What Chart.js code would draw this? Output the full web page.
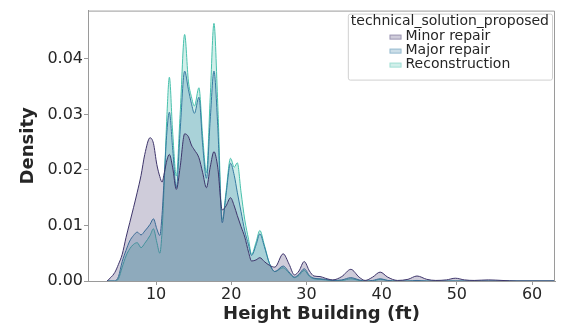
<!DOCTYPE html>
<html>
<head>
<meta charset="utf-8">
<script src="https://cdn.jsdelivr.net/npm/chart.js@4"></script>
<style>
  html, body { margin: 0; padding: 0; background: #fff; }
</style>
</head>
<body>
<canvas id="kdeChart" width="561" height="327"></canvas>
<script>
const heightFt = [3.5, 4.5, 5.0, 5.5, 6.0, 6.5, 7.0, 7.5, 8.0, 8.5, 9.2, 9.65, 10.1, 10.5, 10.8, 11.1, 11.45, 11.77, 12.2, 12.7,
  13.2, 13.8, 14.3, 14.7, 15.1, 15.7, 16.2, 16.7, 17.2, 17.7, 18.2, 18.8, 19.3, 19.9, 20.4, 20.8, 21.3, 21.8, 22.3, 22.7,
  23.3, 23.8, 24.4, 25.1, 25.8, 26.9, 27.7, 28.4, 29.0, 29.7, 30.4, 31.0, 31.8, 32.5, 33.5, 34.7, 35.9, 37.0, 37.8, 38.8,
  39.8, 40.8, 42.1, 43.5, 44.7, 46.0, 47.2, 48.6, 49.8, 51.0, 52.3, 54.2, 56.0, 58.0, 60.0, 63.0];

const minorRepair = [0, 0.0015, 0.003, 0.0048, 0.0078, 0.0105, 0.0132, 0.016, 0.019, 0.0228, 0.0258, 0.0248, 0.021, 0.0188, 0.0178, 0.0195, 0.0218, 0.0228, 0.0205, 0.0165,
  0.0205, 0.0265, 0.026, 0.0245, 0.0236, 0.0222, 0.0195, 0.0168, 0.0205, 0.0233, 0.0205, 0.0128, 0.0135, 0.015, 0.0135, 0.0118, 0.0098, 0.0079, 0.0052, 0.0036,
  0.0038, 0.0042, 0.0035, 0.0028, 0.0025, 0.0049, 0.003, 0.0011, 0.0018, 0.0035, 0.0018, 0.0009, 0.0008, 0.0005, 0.0002, 0.0008, 0.0021, 0.0007, 0.0001, 0.0007,
  0.0016, 0.0007, 0.0001, 0.0003, 0.0009, 0.0003, 0.0001, 0.0002, 0.0005, 0.0002, 0.0001, 0.0002, 0.0001, 0, 0, 0];

const majorRepair = [0, 0, 0.0008, 0.0035, 0.0055, 0.0072, 0.0082, 0.0088, 0.0083, 0.009, 0.0102, 0.0112, 0.0094, 0.0082, 0.012, 0.019, 0.027, 0.0304, 0.024, 0.0168,
  0.027, 0.0378, 0.0345, 0.032, 0.0302, 0.0331, 0.0245, 0.0185, 0.029, 0.0378, 0.028, 0.0105, 0.0155, 0.0212, 0.019, 0.016, 0.0125, 0.009, 0.0065, 0.0046,
  0.0065, 0.0085, 0.0062, 0.0031, 0.0017, 0.0027, 0.0016, 0.0007, 0.0012, 0.0022, 0.001, 0.0005, 0.0004, 0.0003, 0.0001, 0.0002, 0.0006, 0.0002, 0, 0.0001,
  0.0004, 0.0001, 0, 0, 0.0001, 0, 0, 0, 0, 0, 0, 0, 0, 0, 0, 0];

const reconstruction = [0, 0, 0.0004, 0.0025, 0.0045, 0.0058, 0.0066, 0.0069, 0.006, 0.0068, 0.0082, 0.0094, 0.007, 0.005, 0.009, 0.018, 0.03, 0.0367, 0.027, 0.0189,
  0.03, 0.0444, 0.036, 0.0332, 0.0315, 0.0348, 0.026, 0.0195, 0.033, 0.0464, 0.032, 0.011, 0.016, 0.0221, 0.0205, 0.0213, 0.016, 0.011, 0.0075, 0.0048,
  0.007, 0.0091, 0.0065, 0.0031, 0.0017, 0.0024, 0.0014, 0.0006, 0.001, 0.0019, 0.0008, 0.0004, 0.0003, 0.0002, 0.0001, 0.0001, 0.0004, 0.0001, 0, 0,
  0.0003, 0.0001, 0, 0, 0, 0, 0, 0, 0, 0, 0, 0, 0, 0, 0, 0];

const seriesNames = ["Minor repair", "Major repair", "Reconstruction"];
const xTicks = [10, 20, 30, 40, 50, 60];
const yTicks = [0, 0.01, 0.02, 0.03, 0.04];

const lineColors = ["#3e356b", "#357ba2", "#49c1ad"];
const fillColors = ["rgba(62,53,107,0.25)", "rgba(53,123,162,0.25)", "rgba(73,193,173,0.25)"];

const FONT = "'DejaVu Sans', sans-serif";
const TEXT = "#262626";
const SPINE = "#9a9a9a";

const toPoints = (ys) => heightFt.map((x, i) => ({ x: x, y: ys[i] }));

// top and right spines
const frame = {
  id: "frame",
  afterDatasetsDraw(chart) {
    const { ctx, chartArea: a } = chart;
    ctx.save();
    ctx.strokeStyle = SPINE;
    ctx.lineWidth = 1;
    ctx.beginPath();
    ctx.moveTo(a.left, a.top + 0.5);
    ctx.lineTo(a.right - 0.5, a.top + 0.5);
    ctx.lineTo(a.right - 0.5, a.bottom);
    ctx.stroke();
    ctx.restore();
  },
};

// seaborn-style legend box with a title, top right inside the axes
const legendBox = {
  id: "legendBox",
  afterDraw(chart) {
    const { ctx, chartArea } = chart;
    const sets = chart.data.datasets;
    const title = "technical_solution_proposed";
    ctx.save();
    ctx.font = "14px " + FONT;
    const titleW = ctx.measureText(title).width;
    const labelW = Math.max(...sets.map((d) => ctx.measureText(d.label).width));
    const itemW = 12 + 4 + labelW;
    const boxW = Math.max(titleW, itemW) + 6;
    const right = chartArea.right - 3;
    const left = right - boxW;
    const top = chartArea.top + 3;
    const boxH = 66;

    ctx.fillStyle = "rgba(255,255,255,0.8)";
    ctx.strokeStyle = "#d0d0d0";
    ctx.lineWidth = 1;
    ctx.beginPath();
    ctx.roundRect(left + 0.5, top + 0.5, boxW, boxH, 2);
    ctx.fill();
    ctx.stroke();

    const cx = left + boxW / 2;
    ctx.fillStyle = TEXT;
    ctx.textBaseline = "middle";
    ctx.textAlign = "center";
    ctx.fillText(title, cx, top + 8);

    const x0 = cx - itemW / 2;
    ctx.textAlign = "left";
    sets.forEach((d, i) => {
      const y = top + 23 + i * 14;
      ctx.fillStyle = d.backgroundColor;
      ctx.fillRect(x0, y - 2, 12, 5);
      ctx.globalAlpha = 0.35;
      ctx.strokeStyle = d.borderColor;
      ctx.strokeRect(x0 + 0.5, y - 1.5, 11, 4);
      ctx.globalAlpha = 1;
      ctx.fillStyle = TEXT;
      ctx.fillText(d.label, x0 + 16, y);
    });
    ctx.restore();
  },
};

const datasets = [minorRepair, majorRepair, reconstruction].map((ys, i) => ({
  label: seriesNames[i],
  data: toPoints(ys),
  borderColor: lineColors[i],
  backgroundColor: fillColors[i],
  borderWidth: 1,
  pointRadius: 0,
  fill: "origin",
  cubicInterpolationMode: "monotone",
}));

new Chart(document.getElementById("kdeChart"), {
  type: "line",
  data: { datasets: datasets },
  options: {
    responsive: false,
    animation: false,
    devicePixelRatio: 1,
    layout: { padding: { left: 0, right: 6, top: 7, bottom: 0 } },
    plugins: {
      legend: { display: false },
      tooltip: { enabled: false },
    },
    scales: {
      x: {
        type: "linear",
        min: 0.95,
        max: 63.05,
        afterBuildTicks: (scale) => { scale.ticks = xTicks.map((v) => ({ value: v })); },
        afterFit: (scale) => { scale.height = 46; },
        ticks: {
          color: TEXT,
          font: { family: FONT, size: 16 },
          padding: 0,
          maxRotation: 0,
          callback: (v) => String(v),
        },
        grid: { drawOnChartArea: false, tickLength: 4, tickColor: SPINE },
        border: { color: SPINE, width: 1 },
        title: {
          display: true,
          text: "Height Building (ft)",
          color: TEXT,
          font: { family: FONT, size: 18, weight: "bold" },
          padding: { top: 0, bottom: 2 },
        },
      },
      y: {
        min: 0,
        max: 0.0487,
        afterBuildTicks: (scale) => { scale.ticks = yTicks.map((v) => ({ value: v })); },
        afterFit: (scale) => { scale.width = 88; },
        ticks: {
          color: TEXT,
          font: { family: FONT, size: 16 },
          padding: 1,
          callback: (v) => v.toFixed(2),
        },
        grid: { drawOnChartArea: false, tickLength: 4, tickColor: SPINE },
        border: { color: SPINE, width: 1 },
        title: {
          display: true,
          text: "Density",
          color: TEXT,
          font: { family: FONT, size: 18, weight: "bold" },
          padding: { top: 18, bottom: 0 },
        },
      },
    },
  },
  plugins: [frame, legendBox],
});
</script>
</body>
</html>
